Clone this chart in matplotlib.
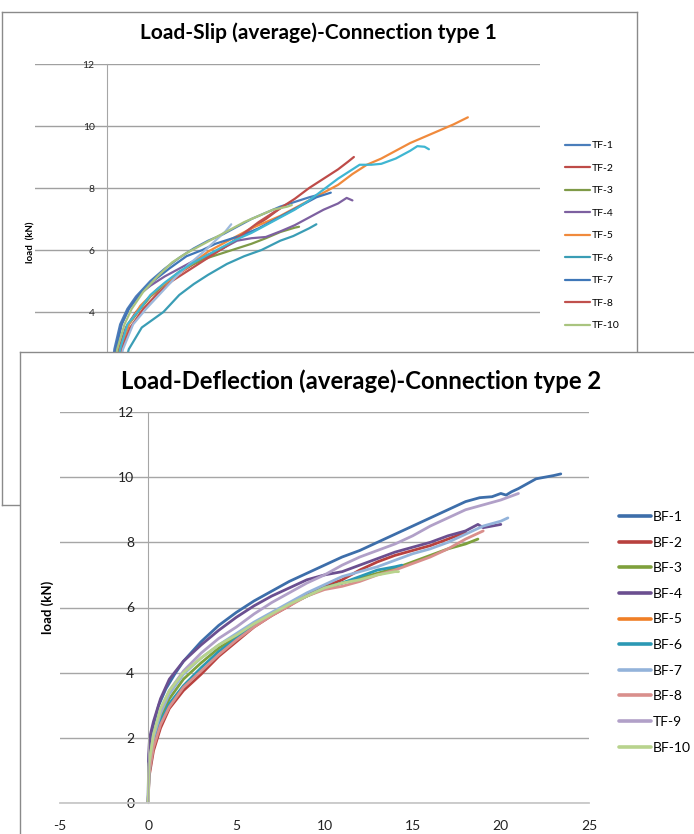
import matplotlib
matplotlib.use('Agg')
import matplotlib.pyplot as plt

plt.rcParams['font.family'] = ['Lato', 'DejaVu Sans']
plt.rcParams['axes.unicode_minus'] = False

W, H = 694, 834

# ---- chart 1 : load-slip, connection type 1 (partly hidden) ----
tf1_x = [0, 0.2, 0.5, 0.9, 1.4, 2, 3, 4, 5, 6, 7, 8, 9, 10, 11, 12, 13, 14, 14.8]
tf1_y = [0, 1.5, 2.8, 3.6, 4.1, 4.5, 5.0, 5.4, 5.75, 6.05, 6.3, 6.5, 6.75, 7.0, 7.2, 7.4, 7.55, 7.7, 7.8]
tf2_x = [0, 0.3, 0.8, 1.3, 2, 3, 4, 5, 6, 7, 8, 9, 10, 11, 12, 13, 14, 15, 16, 16.7, 17.1]
tf2_y = [0, 1.5, 2.8, 3.5, 4.0, 4.5, 4.9, 5.25, 5.55, 5.8, 6.05, 6.35, 6.7, 7.0, 7.35, 7.65, 8.0, 8.3, 8.6, 8.85, 9.0]
tf3_x = [0, 0.4, 0.9, 1.5, 2.3, 3, 4, 5, 6, 7, 8, 9, 10, 11, 12, 13, 13.3]
tf3_y = [0, 1.5, 2.8, 3.6, 4.1, 4.5, 4.9, 5.3, 5.55, 5.75, 5.9, 6.05, 6.2, 6.38, 6.58, 6.72, 6.75]
tf4_x = [0, 0.2, 0.6, 1.0, 1.5, 2.2, 3, 4, 5, 6, 7, 8, 9, 10, 11, 12, 13, 14, 15, 16, 16.6, 17.0]
tf4_y = [0, 1.5, 2.8, 3.6, 4.1, 4.55, 4.85, 5.15, 5.4, 5.65, 5.85, 6.05, 6.3, 6.38, 6.42, 6.6, 6.8, 7.05, 7.3, 7.5, 7.68, 7.6]
tf5_x = [0, 0.4, 0.9, 1.5, 2.3, 3.5, 5, 6, 7, 8, 9, 10, 11, 12, 13, 14, 15, 16, 17, 18, 19, 20, 21, 22, 23, 24, 25]
tf5_y = [0, 1.5, 2.8, 3.6, 4.2, 4.75, 5.25, 5.6, 5.95, 6.2, 6.45, 6.7, 6.9, 7.1, 7.35, 7.6, 7.85, 8.1, 8.45, 8.75,
         8.95, 9.2, 9.45, 9.65, 9.85, 10.05, 10.28]
tf6_x = [0, 0.8, 1.5, 2.4, 3.9, 5, 6, 7, 8.3, 9.5, 10.7, 12, 12.9, 14, 14.5]
tf6_y = [0, 1.5, 2.8, 3.5, 4.0, 4.55, 4.9, 5.2, 5.55, 5.8, 6.0, 6.3, 6.45, 6.7, 6.83]
tf7_x = [0, 0.25, 0.6, 1.0, 1.5, 2.3, 3.2, 4.3, 5.5, 6.6, 7.5, 8.5, 9.5, 10.5, 11.5, 12.5, 13.5, 14.5, 15.5]
tf7_y = [0, 1.5, 2.8, 3.6, 4.1, 4.6, 5.0, 5.4, 5.8, 6.0, 6.2, 6.35, 6.5, 6.7, 6.95, 7.2, 7.45, 7.7, 7.85]
tf8_x = [0, 0.5, 1.0, 1.6, 2.5, 3.5, 4.5, 5.5, 6.5, 7.5, 8.5, 9.5, 10.5, 11.5, 12.2]
tf8_y = [0, 1.5, 2.8, 3.5, 4.1, 4.6, 5.0, 5.3, 5.6, 5.9, 6.2, 6.55, 6.9, 7.2, 7.4]
tf9_x = [0, 0.5, 1.1, 1.8, 2.7, 3.7, 4.7, 5.7, 6.7, 7.5, 8.2, 8.6]
tf9_y = [0, 1.5, 2.8, 3.6, 4.1, 4.6, 5.1, 5.55, 5.95, 6.3, 6.6, 6.83]
tf10_x = [0, 0.3, 0.7, 1.2, 1.7, 2.5, 3.5, 4.5, 5.5, 6.5, 7.5, 8.5, 9.5, 10.5, 11.5, 12.5, 12.8]
tf10_y = [0, 1.5, 2.8, 3.6, 4.1, 4.65, 5.15, 5.6, 5.9, 6.15, 6.4, 6.65, 6.9, 7.1, 7.3, 7.4, 7.45]
tf11_x = [0, 0.4, 0.9, 1.4, 2.1, 3, 4, 5, 6, 7, 8, 9, 10, 11, 12, 13, 14, 15, 16, 17, 17.5, 18.3, 19, 20, 21,
          21.5, 22, 22.3]
tf11_y = [0, 1.5, 2.8, 3.6, 4.0, 4.55, 4.95, 5.3, 5.6, 5.85, 6.1, 6.35, 6.55, 6.8, 7.05, 7.3, 7.6, 7.95, 8.3,
          8.6, 8.75, 8.75, 8.78, 8.95, 9.2, 9.35, 9.33, 9.25]

top_names = ['TF-1', 'TF-2', 'TF-3', 'TF-4', 'TF-5', 'TF-6', 'TF-7', 'TF-8', 'TF-9', 'TF-10', 'TF-11']
top_colors = ['#4a7ebb', '#be4b48', '#7f9a48', '#7d60a0', '#f08a3c', '#3a9db5', '#3f77b8', '#c0504d',
              '#9db9dd', '#a9c47f', '#3fb6d2']
top_legend = ['TF-1', 'TF-2', 'TF-3', 'TF-4', 'TF-5', 'TF-6', 'TF-7', 'TF-8', 'TF-10']
top_xs = [tf1_x, tf2_x, tf3_x, tf4_x, tf5_x, tf6_x, tf7_x, tf8_x, tf9_x, tf10_x, tf11_x]
top_ys = [tf1_y, tf2_y, tf3_y, tf4_y, tf5_y, tf6_y, tf7_y, tf8_y, tf9_y, tf10_y, tf11_y]

# ---- chart 2 : load-deflection, connection type 2 ----
bf1_x = [0, 0.02, 0.1, 0.3, 0.6, 1.0, 1.5, 2, 3, 4, 5, 6, 7, 8, 9, 10, 11, 12, 13, 14, 15, 16, 17, 18, 18.8,
         19.5, 20, 20.3, 20.6, 21, 21.5, 22, 22.5, 23, 23.4]
bf1_y = [0, 1.2, 1.8, 2.4, 3.0, 3.5, 3.95, 4.35, 4.95, 5.45, 5.85, 6.2, 6.5, 6.8, 7.05, 7.3, 7.55, 7.75, 8.0,
         8.25, 8.5, 8.75, 9.0, 9.25, 9.37, 9.4, 9.5, 9.45, 9.55, 9.65, 9.8, 9.95, 10.0, 10.05, 10.1]
bf2_x = [0, 0.05, 0.3, 0.7, 1.2, 2, 3, 4, 5, 6, 7, 8, 9, 10, 11, 12, 13, 14, 15, 16, 17, 18]
bf2_y = [0, 0.8, 1.6, 2.3, 2.9, 3.45, 3.95, 4.5, 4.95, 5.4, 5.75, 6.05, 6.4, 6.65, 6.85, 7.15, 7.4, 7.6,
         7.75, 7.9, 8.1, 8.3]
bf3_x = [0, 0.05, 0.3, 0.7, 1.2, 2, 3, 4, 5, 6, 7, 8, 9, 10, 11, 12, 13, 14, 15, 16, 17, 18, 18.7]
bf3_y = [0, 1.0, 1.9, 2.6, 3.2, 3.8, 4.3, 4.75, 5.1, 5.45, 5.8, 6.1, 6.35, 6.6, 6.75, 6.9, 7.05, 7.2, 7.4,
         7.6, 7.8, 7.95, 8.1]
bf4_x = [0, 0.03, 0.08, 0.3, 0.7, 1.2, 2, 3, 4, 5, 6, 7, 8, 9, 10, 11, 12, 13, 14, 15, 16, 17, 18, 18.7,
         19, 19.5, 20]
bf4_y = [0, 1.5, 2.0, 2.5, 3.2, 3.8, 4.35, 4.85, 5.3, 5.7, 6.05, 6.35, 6.6, 6.85, 7.0, 7.1, 7.3, 7.5, 7.7,
         7.85, 8.0, 8.2, 8.35, 8.55, 8.45, 8.5, 8.55]
bf5_x = []
bf5_y = []
bf6_x = [0, 0.05, 0.3, 0.7, 1.2, 2, 3, 4, 5, 6, 7, 8, 9, 10, 11, 12, 13, 14, 14.4]
bf6_y = [0, 0.9, 1.8, 2.5, 3.05, 3.6, 4.15, 4.65, 5.05, 5.45, 5.8, 6.1, 6.35, 6.6, 6.75, 6.95, 7.15, 7.25, 7.3]
bf7_x = [0, 0.05, 0.3, 0.7, 1.2, 2, 3, 4, 5, 6, 7, 8, 9, 10, 11, 12, 13, 14, 15, 16, 17, 18, 19, 20, 20.4]
bf7_y = [0, 1.1, 2.0, 2.75, 3.35, 3.95, 4.45, 4.85, 5.2, 5.55, 5.85, 6.15, 6.45, 6.7, 6.95, 7.1, 7.25, 7.45,
         7.65, 7.8, 8.0, 8.25, 8.5, 8.65, 8.75]
bf8_x = [0, 0.05, 0.3, 0.7, 1.2, 2, 3, 4, 5, 6, 7, 8, 9, 10, 11, 12, 13, 14, 15, 16, 17, 18, 19]
bf8_y = [0, 0.9, 1.7, 2.4, 2.95, 3.55, 4.05, 4.55, 5.0, 5.4, 5.75, 6.05, 6.35, 6.55, 6.65, 6.8, 7.0, 7.15,
         7.35, 7.55, 7.8, 8.1, 8.35]
tf9b_x = [0, 0.05, 0.3, 0.7, 1.2, 2, 3, 4, 5, 6, 7, 8, 9, 10, 11, 12, 13, 14, 15, 16, 17, 18, 19, 20, 21]
tf9b_y = [0, 1.2, 2.1, 2.85, 3.45, 4.05, 4.6, 5.05, 5.4, 5.8, 6.15, 6.45, 6.75, 7.0, 7.3, 7.55, 7.75, 7.95,
          8.2, 8.5, 8.75, 9.0, 9.15, 9.3, 9.5]
bf10_x = [0, 0.05, 0.3, 0.7, 1.2, 2, 3, 4, 5, 6, 7, 8, 9, 10, 11, 12, 13, 14, 14.2]
bf10_y = [0, 1.2, 2.1, 2.9, 3.45, 4.0, 4.45, 4.85, 5.15, 5.5, 5.8, 6.1, 6.35, 6.6, 6.75, 6.85, 7.0, 7.1, 7.1]

bot_names = ['BF-1', 'BF-2', 'BF-3', 'BF-4', 'BF-5', 'BF-6', 'BF-7', 'BF-8', 'TF-9', 'BF-10']
bot_colors = ['#3d6eaa', '#b8413e', '#7ea03c', '#6b4f90', '#f07f26', '#2b98b4', '#93b3da', '#d98f8c',
              '#b1a0c8', '#b8d38d']
bot_xs = [bf1_x, bf2_x, bf3_x, bf4_x, bf5_x, bf6_x, bf7_x, bf8_x, tf9b_x, bf10_x]
bot_ys = [bf1_y, bf2_y, bf3_y, bf4_y, bf5_y, bf6_y, bf7_y, bf8_y, tf9b_y, bf10_y]

yticks = [0, 2, 4, 6, 8, 10, 12]


def frame(rect, z):
    f = fig.add_axes(rect, zorder=z)
    f.set_xticks([])
    f.set_yticks([])
    for s in f.spines.values():
        s.set_color('#8a8a8a')
        s.set_linewidth(1.0)
    return f


def style_axes(ax, xmin, xmax, xstep, fs, pad, gridc):
    ax.set_xlim(xmin, xmax)
    ax.set_ylim(0, 12)
    ax.set_yticks(yticks)
    ax.set_xticks(range(xmin, xmax + 1, xstep))
    ax.patch.set_alpha(0)
    ax.grid(axis='y', color=gridc, lw=1.0)
    ax.set_axisbelow(True)
    ax.spines['left'].set_position(('data', 0))
    ax.spines['left'].set_color('#a6a6a6')
    ax.spines['bottom'].set_color('#c8c8c8')
    ax.spines['bottom'].set_linewidth(1.3)
    ax.spines['right'].set_visible(False)
    ax.spines['top'].set_visible(False)
    ax.tick_params(axis='y', length=0, pad=pad, labelsize=fs, colors='#222222')
    ax.tick_params(axis='x', length=0, pad=12, labelsize=fs, colors='#222222')


fig = plt.figure(figsize=(W / 100, H / 100), dpi=100)

# chart 1 (behind)
frame([2 / W, 1 - 505 / H, 635 / W, 493 / H], 0)
ax1 = fig.add_axes([35 / W, 1 - 436 / H, 505 / W, 372 / H], zorder=1)
style_axes(ax1, -5, 30, 5, 7.5, 9, '#a0a0a0')
for name, c, xs, ys in zip(top_names, top_colors, top_xs, top_ys):
    ax1.plot(xs, ys, color=c, lw=1.6, label=name, solid_capstyle='round', solid_joinstyle='round')
h1, l1 = ax1.get_legend_handles_labels()
keep = [i for i, l in enumerate(l1) if l in top_legend]
ax1.legend([h1[i] for i in keep], [l1[i] for i in keep], loc='upper left',
           bbox_to_anchor=(565 / W, 1 - 141 / H), bbox_transform=fig.transFigure,
           frameon=False, fontsize=7.5, handlelength=2.4, handletextpad=0.2,
           labelspacing=1.27, borderpad=0, borderaxespad=0)
ax1.set_ylabel('load  (kN)', fontsize=7, fontweight='bold')
ax1.yaxis.set_label_coords(0.0, 0.52)
fig.text(318 / W, 1 - 33 / H, 'Load-Slip (average)-Connection type 1', ha='center', va='center',
         fontsize=15, fontweight='bold')

# chart 2 (in front)
frame([20 / W, -0.05, 1.0, 1 - 352 / H + 0.05], 2)
ax2 = fig.add_axes([60 / W, 1 - 803 / H, 529 / W, 391 / H], zorder=3)
style_axes(ax2, -5, 25, 5, 10, 10, '#a6a6a6')
for name, c, xs, ys in zip(bot_names, bot_colors, bot_xs, bot_ys):
    ax2.plot(xs, ys, color=c, lw=2.0, label=name, solid_capstyle='round', solid_joinstyle='round')
leg2 = ax2.legend(loc='upper left', bbox_to_anchor=(619 / W, 1 - 511 / H), bbox_transform=fig.transFigure,
                  frameon=False, fontsize=10, handlelength=2.3, handletextpad=0.15,
                  labelspacing=0.98, borderpad=0, borderaxespad=0)
for line in leg2.get_lines():
    line.set_linewidth(2.6)
ax2.set_ylabel('load (kN)', fontsize=9.5, fontweight='bold')
ax2.yaxis.set_label_coords(-0.012, 0.5)
fig.text(361 / W, 1 - 381 / H, 'Load-Deflection (average)-Connection type 2', ha='center', va='center',
         fontsize=17.2, fontweight='bold', zorder=4)

fig.savefig('out.png', dpi=100)
